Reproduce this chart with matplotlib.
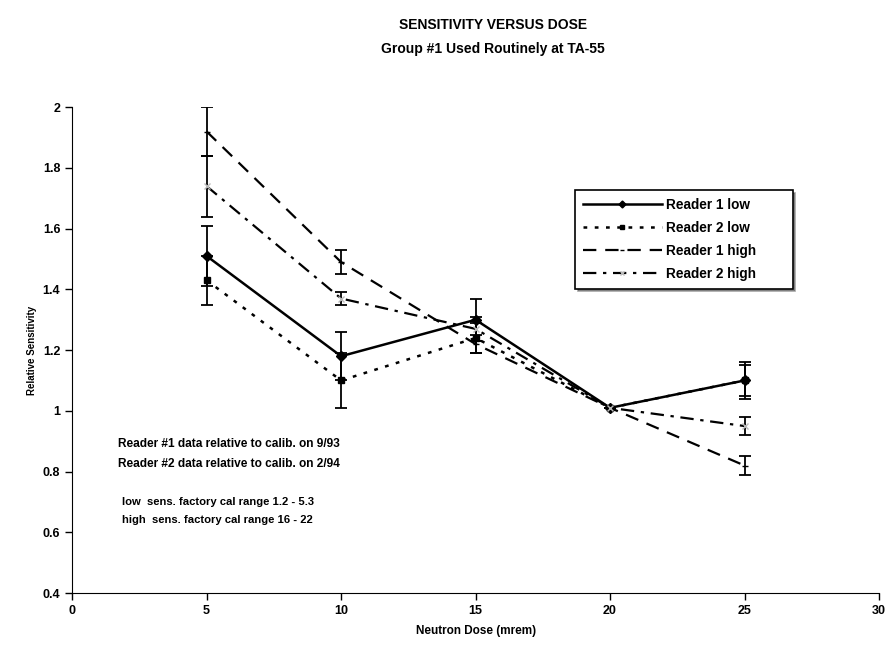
import matplotlib
matplotlib.use("Agg")
import matplotlib.pyplot as plt
from matplotlib.lines import Line2D
from matplotlib.ticker import FormatStrFormatter

plt.rcParams['font.family'] = ['Liberation Sans', 'DejaVu Sans']
plt.rcParams['font.weight'] = 'bold'

# dose points (mrem)
dose = [5, 10, 15, 20, 25]

# relative sensitivity and error bar half-widths
r1_low = [1.51, 1.18, 1.30, 1.01, 1.10]
r1_low_err = [0.10, 0.08, 0.07, 0.0, 0.05]
r2_low = [1.43, 1.10, 1.24, 1.01, 1.10]
r2_low_err = [0.08, 0.09, 0.05, 0.0, 0.06]
r1_high = [1.92, 1.49, 1.22, 1.01, 0.82]
r1_high_err = [0.08, 0.04, 0.03, 0.0, 0.03]
r2_high = [1.74, 1.37, 1.27, 1.01, 0.95]
r2_high_err = [0.10, 0.02, 0.04, 0.0, 0.03]

labels = ['Reader 1 low', 'Reader 2 low', 'Reader 1 high', 'Reader 2 high']

fig = plt.figure(figsize=(8.91, 6.46), dpi=100)
ax = fig.add_axes([0.081, 0.082, 0.9055, 0.752])

eb = dict(ecolor='black', elinewidth=1.3, capsize=4, capthick=1.3)
styles = [
    dict(lw=1.8, ls='-', marker='D', ms=5),
    dict(lw=1.8, ls=(0, (1.5, 3)), marker='s', ms=5),
    dict(lw=1.6, ls=(0, (6, 4)), marker='_', ms=5),
    dict(lw=1.6, ls=(0, (6, 3, 1.5, 3)), marker='x', ms=4, mec='#bbbbbb'),
]
series = [(r1_low, r1_low_err), (r2_low, r2_low_err),
          (r1_high, r1_high_err), (r2_high, r2_high_err)]

handles = []
for (vals, errs), st, lab in zip(series, styles, labels):
    ax.errorbar(dose, vals, yerr=errs, color='black', **st, **eb)
    hst = dict(st)
    hst['ms'] = 3.5
    handles.append(Line2D([], [], color='black', **hst))

ax.set_xlim(0, 30)
ax.set_ylim(0.4, 2.0)
ax.set_xticks([0, 5, 10, 15, 20, 25, 30])
ax.set_yticks([0.4, 0.6, 0.8, 1.0, 1.2, 1.4, 1.6, 1.8, 2.0])
ax.yaxis.set_major_formatter(FormatStrFormatter('%g'))
ax.tick_params(labelsize=9, direction='out', length=5, width=1)
ax.spines['top'].set_visible(False)
ax.spines['right'].set_visible(False)

ax.set_xlabel('Neutron Dose (mrem)', fontsize=8.5, fontweight='bold', labelpad=6)
ax.set_ylabel('Relative Sensitivity', fontsize=7, fontweight='bold')

fig.text(0.553, 0.955, 'SENSITIVITY VERSUS DOSE', ha='center', fontsize=10, fontweight='bold')
fig.text(0.553, 0.918, 'Group #1 Used Routinely at TA-55', ha='center', fontsize=10, fontweight='bold')

ax.text(1.7, 0.88, 'Reader #1 data relative to calib. on 9/93', fontsize=8.6, fontweight='bold')
ax.text(1.7, 0.815, 'Reader #2 data relative to calib. on 2/94', fontsize=8.6, fontweight='bold')
ax.text(1.85, 0.69, 'low  sens. factory cal range 1.2 - 5.3', fontsize=8.1, fontweight='bold')
ax.text(1.85, 0.63, 'high  sens. factory cal range 16 - 22', fontsize=8.1, fontweight='bold')

leg = ax.legend(handles, labels, loc='upper left', bbox_to_anchor=(0.623, 0.83, 0.27, 0),
                mode='expand', prop={'weight': 'bold', 'size': 9.8},
                frameon=True, fancybox=False, shadow=True, edgecolor='black',
                handlelength=5.8, handletextpad=0.3, borderpad=0.6, labelspacing=0.65,
                borderaxespad=0)
leg.get_frame().set_linewidth(1.2)

fig.savefig('out.png', dpi=100)
